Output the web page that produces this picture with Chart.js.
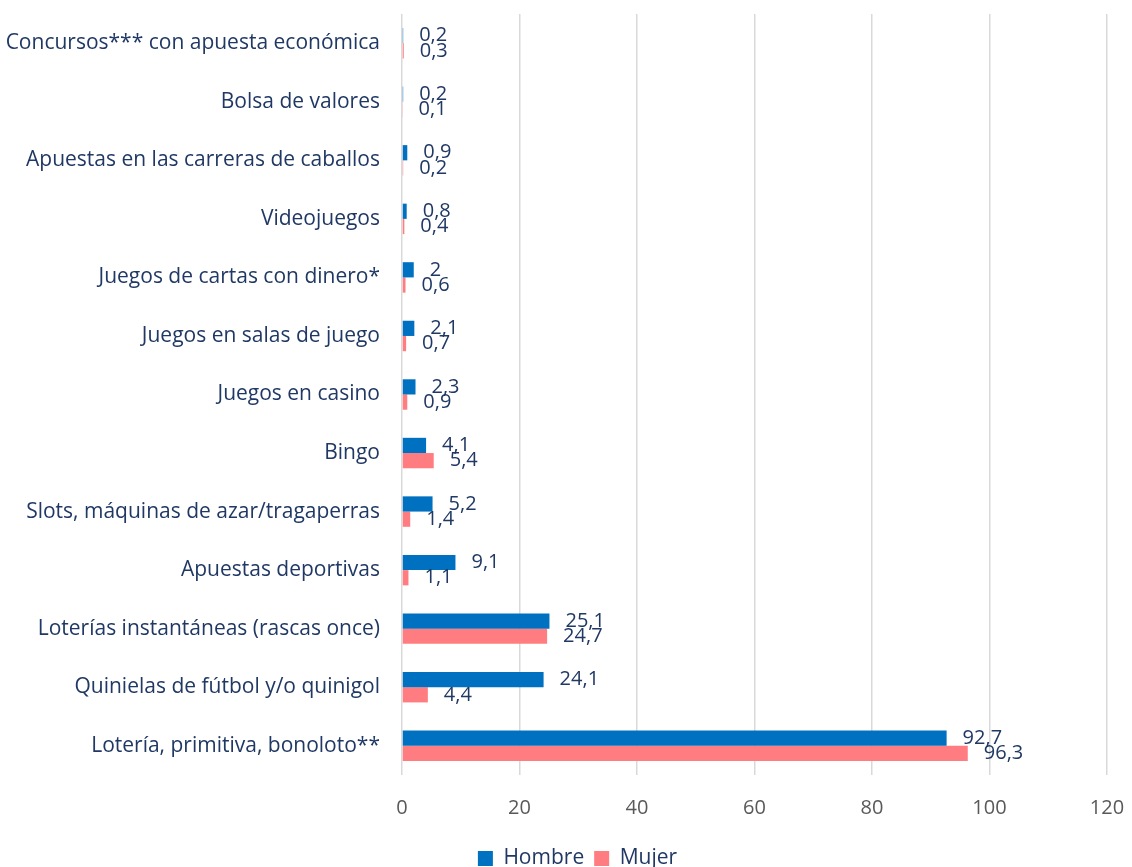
<!DOCTYPE html>
<html>
<head>
<meta charset="utf-8">
<script src="https://cdn.jsdelivr.net/npm/chart.js@4"></script>
<style>
  html, body { margin: 0; padding: 0; background: #fff; }
  #wrap { width: 1132px; height: 867px; }
</style>
</head>
<body>
<div id="wrap"><canvas id="juegoChart"></canvas></div>
<script>
const categories = [
    'Concursos*** con apuesta económica',
    'Bolsa de valores',
    'Apuestas en las carreras de caballos',
    'Videojuegos',
    'Juegos de cartas con dinero*',
    'Juegos en salas de juego',
    'Juegos en casino',
    'Bingo',
    'Slots, máquinas de azar/tragaperras',
    'Apuestas deportivas',
    'Loterías instantáneas (rascas once)',
    'Quinielas de fútbol y/o quinigol',
    'Lotería, primitiva, bonoloto**'
];
const hombre = [0.2, 0.2, 0.9, 0.8, 2, 2.1, 2.3, 4.1, 5.2, 9.1, 25.1, 24.1, 92.7];
const mujer = [0.3, 0.1, 0.2, 0.4, 0.6, 0.7, 0.9, 5.4, 1.4, 1.1, 24.7, 4.4, 96.3];
const xTicks = [0, 20, 40, 60, 80, 100, 120];

const FONT = "'Open Sans', sans-serif";
const DARK = '#203864';

// value labels at the end of each bar, Excel style
const barLabels = {
    id: 'barLabels',
    afterDatasetsDraw(chart) {
        const ctx = chart.ctx;
        ctx.save();
        ctx.font = '20px ' + FONT;
        ctx.fillStyle = DARK;
        ctx.textBaseline = 'middle';
        ctx.textAlign = 'left';
        chart.data.datasets.forEach((ds, i) => {
            chart.getDatasetMeta(i).data.forEach((bar, j) => {
                const txt = String(ds.data[j]).replace('.', ',');
                ctx.fillText(txt, bar.x + 16, bar.y);
            });
        });
        ctx.restore();
    }
};

// legend sits a bit right of the canvas centre in the original
const legendShift = {
    id: 'legendShift',
    afterLayout(chart) {
        if (chart.legend) chart.legend.left += 48;
    }
};

const ctx = document.getElementById('juegoChart').getContext('2d');
const chart = new Chart(ctx, {
    type: 'bar',
    data: {
        labels: categories,
        datasets: [
            { label: 'Hombre', data: hombre, backgroundColor: '#0070C0' },
            { label: 'Mujer', data: mujer, backgroundColor: '#FF7C80' }
        ]
    },
    options: {
        indexAxis: 'y',
        responsive: true,
        maintainAspectRatio: false,
        animation: false,
        categoryPercentage: 0.52,
        barPercentage: 1,
        layout: { padding: { left: 0, right: 25, top: 14, bottom: -12 } },
        scales: {
            x: {
                min: 0,
                max: 120,
                afterBuildTicks: scale => { scale.ticks = xTicks.map(v => ({ value: v })); },
                grid: { color: '#D9D9D9', lineWidth: 1.5, drawTicks: false },
                border: { display: false },
                ticks: { color: '#595959', font: { family: FONT, size: 20 }, padding: 21 },
                afterFit: scale => {
                    scale.height = 63;
                    scale.paddingLeft = 0;
                    scale.paddingRight = 0;
                }
            },
            y: {
                grid: { display: false, drawTicks: false },
                border: { display: false },
                ticks: { color: DARK, font: { family: FONT, size: 21 }, padding: 22 },
                afterFit: scale => {
                    scale.width = 402;
                    scale.paddingTop = 0;
                    scale.paddingBottom = 0;
                }
            }
        },
        plugins: {
            legend: {
                position: 'bottom',
                labels: {
                    color: DARK,
                    font: { family: FONT, size: 21 },
                    boxWidth: 15,
                    boxHeight: 15,
                    padding: 10
                }
            },
            tooltip: { enabled: false }
        }
    },
    plugins: [barLabels, legendShift]
});
</script>
</body>
</html>
